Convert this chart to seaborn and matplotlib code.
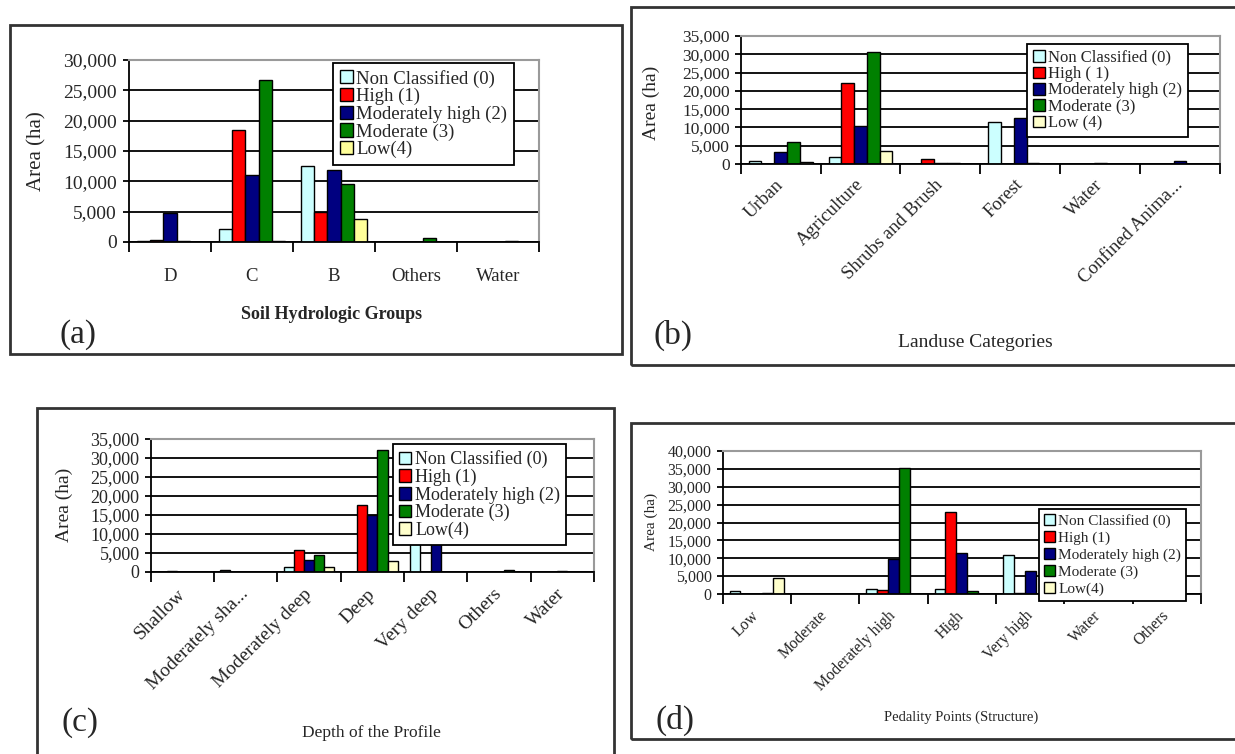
import matplotlib
matplotlib.use('Agg')
import matplotlib.pyplot as plt
from matplotlib.patches import Patch, Rectangle
from matplotlib.ticker import StrMethodFormatter, FixedLocator
import numpy as np
import pandas as pd
import seaborn as sns

# ---- data (area in ha) ----
levels = ['Non Classified (0)', 'High (1)', 'Moderately high (2)', 'Moderate (3)', 'Low(4)']

soil_groups = ['D', 'C', 'B', 'Others', 'Water']
a_nc = [100, 2100, 12500, 0, 0]
a_high = [400, 18500, 4900, 0, 0]
a_modhigh = [4800, 11100, 11800, 0, 0]
a_mod = [150, 26700, 9600, 600, 200]
a_low = [0, 150, 3800, 0, 0]

landuse = ['Urban', 'Agriculture', 'Shrubs and Brush', 'Forest', 'Water', 'Confined Anima...']
b_nc = [900, 2000, 0, 11600, 0, 0]
b_high = [0, 22200, 1400, 0, 0, 0]
b_modhigh = [3300, 10500, 300, 12700, 300, 700]
b_mod = [6000, 30600, 200, 300, 0, 0]
b_low = [600, 3500, 0, 0, 0, 0]

depth = ['Shallow', 'Moderately sha...', 'Moderately deep', 'Deep', 'Very deep', 'Others', 'Water']
c_nc = [0, 600, 1400, 0, 11000, 0, 0]
c_high = [200, 0, 5800, 17700, 0, 0, 0]
c_modhigh = [0, 0, 3100, 15000, 12000, 0, 250]
c_mod = [0, 0, 4600, 32000, 0, 600, 0]
c_low = [0, 0, 1400, 2800, 0, 0, 0]

pedality = ['Low', 'Moderate', 'Moderately high', 'High', 'Very high', 'Water', 'Others']
d_nc = [700, 0, 1400, 1400, 11000, 0, 0]
d_high = [0, 0, 1000, 23000, 400, 0, 0]
d_modhigh = [0, 0, 9700, 11600, 6500, 0, 0]
d_mod = [200, 0, 35300, 700, 0, 0, 0]
d_low = [4400, 0, 0, 0, 0, 0, 0]

legend_a = ['Non Classified (0)', 'High (1)', 'Moderately high (2)', 'Moderate (3)', 'Low(4)']
legend_b = ['Non Classified (0)', 'High ( 1)', 'Moderately high (2)', 'Moderate (3)', 'Low (4)']
legend_c = ['Non Classified (0)', 'High (1)', 'Moderately high (2)', 'Moderate (3)', 'Low(4)']
legend_d = ['Non Classified (0)', 'High (1)', 'Moderately high (2)', 'Moderate (3)', 'Low(4)']

base_colors = ['#CCFFFF', '#FF0000', '#000080', '#008000']

W, H = 1235, 754
sns.set_theme(style='white')
plt.rcParams['font.family'] = ['Liberation Serif', 'DejaVu Serif']
fig = plt.figure(figsize=(W / 100, H / 100), dpi=100)


def px_axes(l, t, r, b):
    return fig.add_axes([l / W, 1 - b / H, (r - l) / W, (b - t) / H])


def fig_text(x, y, s, size, **kw):
    fig.text(x / W, 1 - y / H, s, fontsize=size, ha='center', va='center', **kw)


def panel_box(l, t, r, b):
    fig.patches.append(Rectangle((l / W, 1 - b / H), (r - l) / W, (b - t) / H,
                                 transform=fig.transFigure, fill=False,
                                 edgecolor='#333333', linewidth=2))


def draw_panel(ax, cats, series, low_color, ymax, labels, leg_xy, tick_fs,
               leg_fs, rotate=False, xtick_fs=12, leg_spacing=0.05, ypad=3,
               xpad=14):
    colors = base_colors + [low_color]
    rows = []
    for lev, vals in zip(levels, series):
        for c, v in zip(cats, vals):
            rows.append({'cat': c, 'level': lev, 'area': v})
    df = pd.DataFrame(rows)
    sns.barplot(data=df, x='cat', y='area', hue='level', order=cats,
                hue_order=levels, palette=colors, saturation=1,
                edgecolor='black', linewidth=1, errorbar=None,
                legend=False, ax=ax)
    n = len(cats)
    ax.set_xlim(-0.5, n - 0.5)
    ax.set_ylim(0, ymax)
    ax.set_yticks(np.arange(0, ymax + 1, 5000))
    ax.yaxis.set_major_formatter(StrMethodFormatter('{x:,.0f}'))
    ax.yaxis.grid(True, color='black', linewidth=1.3)
    ax.set_axisbelow(True)
    ax.set_xlabel('')
    ax.set_ylabel('')
    ax.xaxis.set_minor_locator(FixedLocator(np.arange(-0.5, n, 1)))
    ax.tick_params(axis='x', which='major', length=0, labelsize=xtick_fs, pad=xpad)
    ax.tick_params(axis='x', which='minor', length=7, width=1.3,
                   direction='out', color='black', bottom=True)
    ax.tick_params(axis='y', length=4, width=1.3, direction='out',
                   color='black', left=True, labelsize=tick_fs, pad=ypad)
    if rotate:
        for lab in ax.get_xticklabels():
            lab.set_rotation(45)
            lab.set_ha('right')
            lab.set_va('center')
            lab.set_rotation_mode('anchor')
    for side in ['left', 'bottom']:
        ax.spines[side].set_color('black')
        ax.spines[side].set_linewidth(1.3)
    for side in ['top', 'right']:
        ax.spines[side].set_color('#9a9a9a')
        ax.spines[side].set_linewidth(1.5)
    handles = [Patch(facecolor=c, edgecolor='black', linewidth=1) for c in colors]
    leg = ax.legend(handles, labels, loc='upper left',
                    bbox_to_anchor=(leg_xy[0] / W, 1 - leg_xy[1] / H),
                    bbox_transform=fig.transFigure, borderaxespad=0,
                    fontsize=leg_fs, handlelength=0.7, handleheight=0.7,
                    handletextpad=0.2, labelspacing=leg_spacing,
                    borderpad=0.35, fancybox=False, framealpha=1,
                    edgecolor='black')
    leg.get_frame().set_linewidth(1.3)
    leg.set_zorder(10)


# (a) soil hydrologic groups
panel_box(10, 25, 622, 354)
ax_a = px_axes(129, 60, 539, 242)
draw_panel(ax_a, soil_groups, [a_nc, a_high, a_modhigh, a_mod, a_low], '#FFFF99',
           30000, legend_a, (333, 63), 14, 13.5, xtick_fs=13.5,
           leg_spacing=0.02, ypad=5, xpad=19)
fig_text(37, 151, 'Area (ha)', 15, rotation=90)
fig_text(332, 315, 'Soil Hydrologic Groups', 13, fontweight='bold')
fig_text(78, 335, '(a)', 24)

# (b) landuse categories
panel_box(631, 7, 1240, 365)
ax_b = px_axes(740.7, 36, 1220, 164)
draw_panel(ax_b, landuse, [b_nc, b_high, b_modhigh, b_mod, b_low], '#FFFFCC',
           35000, legend_b, (1027, 44), 12.5, 12, rotate=True, xtick_fs=13.5,
           leg_spacing=0.02, ypad=4, xpad=13)
fig_text(651, 103, 'Area (ha)', 14, rotation=90)
fig_text(975, 343, 'Landuse Categories', 14)
fig_text(673, 335, '(b)', 24)

# (c) depth of the profile
panel_box(37, 408, 614, 760)
ax_c = px_axes(150.7, 439, 594, 572)
draw_panel(ax_c, depth, [c_nc, c_high, c_modhigh, c_mod, c_low], '#FFFFCC',
           35000, legend_c, (392.5, 444), 13, 13, rotate=True, xtick_fs=14,
           leg_spacing=0.02, ypad=4, xpad=14)
fig_text(64.5, 505, 'Area (ha)', 14, rotation=90)
fig_text(371.5, 733, 'Depth of the Profile', 12.5)
fig_text(80, 723, '(c)', 24)

# (d) pedality points
panel_box(631, 423, 1240, 739)
ax_d = px_axes(722.7, 451, 1201, 594)
draw_panel(ax_d, pedality, [d_nc, d_high, d_modhigh, d_mod, d_low], '#FFFFCC',
           40000, legend_d, (1039, 509), 11.5, 11, rotate=True, xtick_fs=11.5,
           leg_spacing=0.2, ypad=4, xpad=14)
fig_text(651, 522, 'Area (ha)', 11, rotation=90)
fig_text(961, 717, 'Pedality Points (Structure)', 10.5)
fig_text(675, 720, '(d)', 24)

fig.savefig('out.png', dpi=100)
